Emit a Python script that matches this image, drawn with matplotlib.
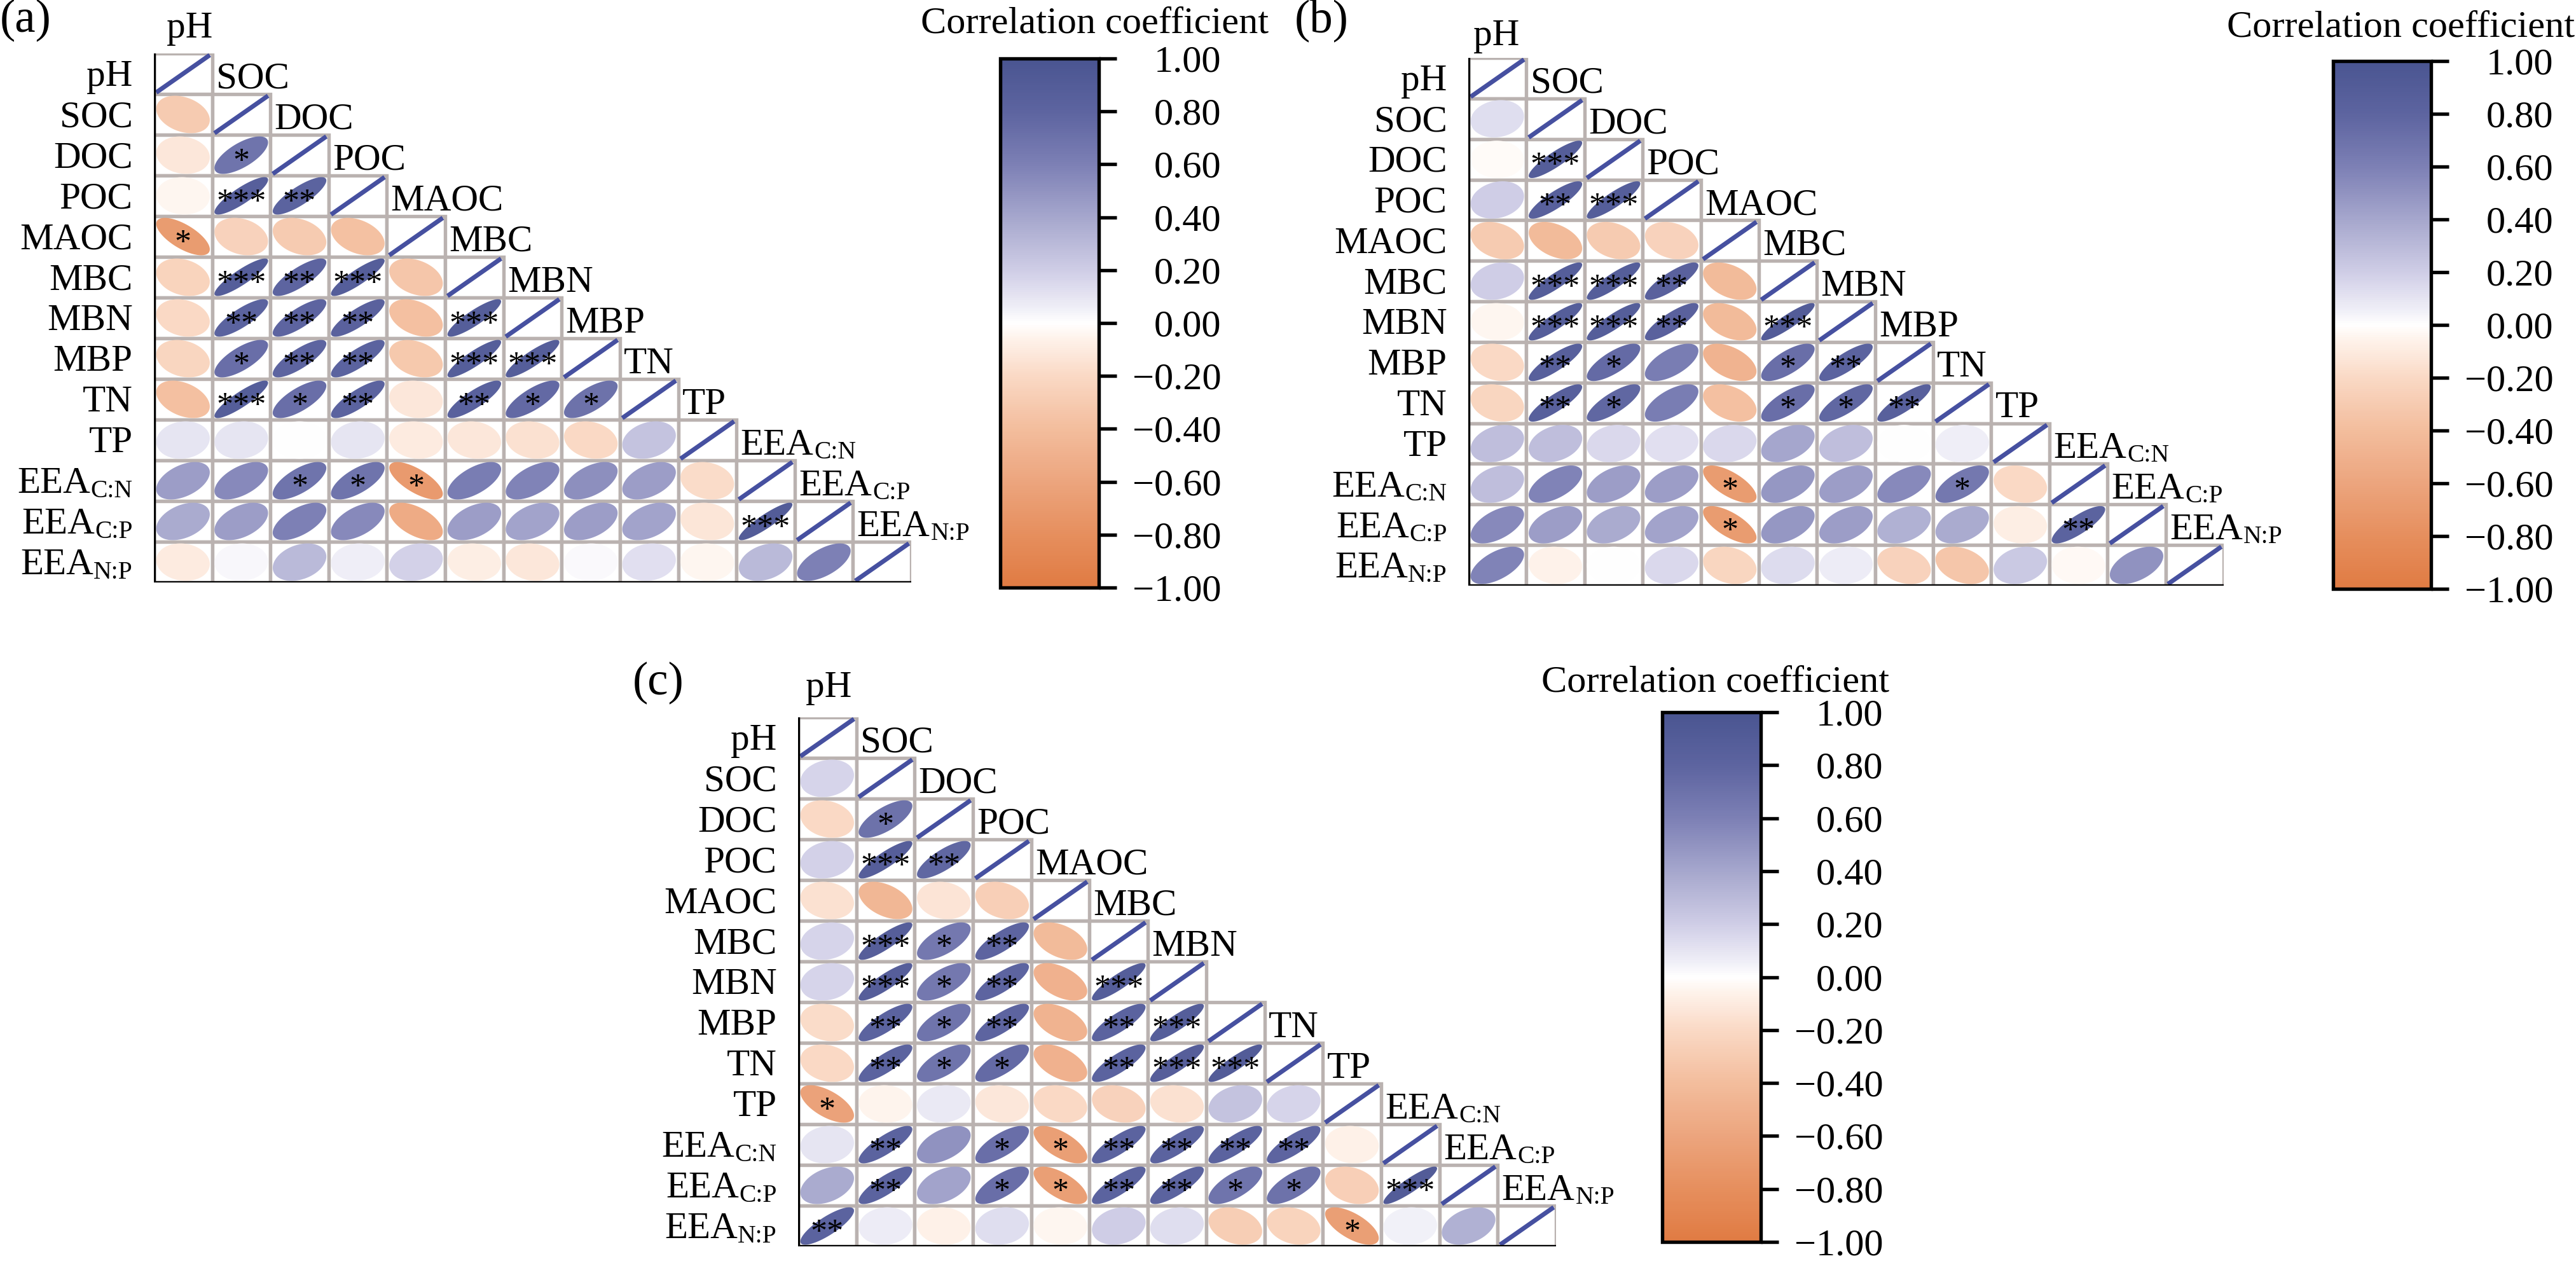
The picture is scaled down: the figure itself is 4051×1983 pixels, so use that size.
import numpy as np
import matplotlib
matplotlib.use('Agg')
import matplotlib.pyplot as plt
from matplotlib.colors import LinearSegmentedColormap, Normalize
from matplotlib.patches import Rectangle, Polygon
from matplotlib.textpath import TextPath
from matplotlib.font_manager import FontProperties
from matplotlib.cm import ScalarMappable
from matplotlib.ticker import FuncFormatter

plt.rcParams['font.family'] = 'Liberation Serif'

# variables (rows / columns of the lower triangle); text after '_' is a subscript
variables = ['pH', 'SOC', 'DOC', 'POC', 'MAOC', 'MBC', 'MBN', 'MBP', 'TN', 'TP',
             'EEA_C:N', 'EEA_C:P', 'EEA_N:P']
# panel (c) has no label above the MBP column
col_labels_c = ['pH', 'SOC', 'DOC', 'POC', 'MAOC', 'MBC', 'MBN', '', 'TN', 'TP',
                'EEA_C:N', 'EEA_C:P', 'EEA_N:P']

# correlation coefficients, lower triangle row by row (diagonal = 1 left out)
corr_a = [
    [],
    [-0.30],
    [-0.12, 0.68],
    [-0.04, 0.86, 0.82],
    [-0.68, -0.25, -0.30, -0.37],
    [-0.24, 0.88, 0.80, 0.88, -0.33],
    [-0.20, 0.82, 0.80, 0.83, -0.38, 0.88],
    [-0.22, 0.72, 0.80, 0.82, -0.32, 0.88, 0.88],
    [-0.38, 0.88, 0.72, 0.82, -0.12, 0.84, 0.76, 0.70],
    [0.10, 0.10, 0.00, 0.10, -0.10, -0.12, -0.15, -0.20, 0.25],
    [0.45, 0.55, 0.68, 0.68, -0.70, 0.62, 0.58, 0.52, 0.45, -0.18],
    [0.38, 0.45, 0.60, 0.55, -0.55, 0.45, 0.42, 0.45, 0.42, -0.13, 0.90],
    [-0.10, 0.03, 0.30, 0.06, 0.18, -0.08, -0.12, 0.02, 0.12, -0.04, 0.30, 0.60],
]
sig_a = [
    [],
    [''],
    ['', '*'],
    ['', '***', '**'],
    ['*', '', '', ''],
    ['', '***', '**', '***', ''],
    ['', '**', '**', '**', '', '***'],
    ['', '*', '**', '**', '', '***', '***'],
    ['', '***', '*', '**', '', '**', '*', '*'],
    ['', '', '', '', '', '', '', '', ''],
    ['', '', '*', '*', '*', '', '', '', '', ''],
    ['', '', '', '', '', '', '', '', '', '', '***'],
    ['', '', '', '', '', '', '', '', '', '', '', ''],
]

corr_b = [
    [],
    [0.13],
    [-0.02, 0.88],
    [0.20, 0.85, 0.88],
    [-0.30, -0.42, -0.30, -0.25],
    [0.20, 0.88, 0.88, 0.83, -0.42],
    [-0.04, 0.88, 0.88, 0.83, -0.42, 0.90],
    [-0.20, 0.85, 0.75, 0.62, -0.48, 0.72, 0.82],
    [-0.22, 0.85, 0.78, 0.62, -0.38, 0.72, 0.78, 0.85],
    [0.28, 0.28, 0.15, 0.12, 0.15, 0.40, 0.28, 0.00, 0.06],
    [0.28, 0.58, 0.45, 0.45, -0.68, 0.48, 0.45, 0.55, 0.65, -0.20],
    [0.55, 0.45, 0.38, 0.42, -0.68, 0.48, 0.45, 0.35, 0.38, -0.08, 0.82],
    [0.58, -0.06, 0.00, 0.15, -0.22, 0.14, 0.07, -0.25, -0.33, 0.22, -0.03, 0.50],
]
sig_b = [
    [],
    [''],
    ['', '***'],
    ['', '**', '***'],
    ['', '', '', ''],
    ['', '***', '***', '**', ''],
    ['', '***', '***', '**', '', '***'],
    ['', '**', '*', '', '', '*', '**'],
    ['', '**', '*', '', '', '*', '*', '**'],
    ['', '', '', '', '', '', '', '', ''],
    ['', '', '', '', '*', '', '', '', '*', ''],
    ['', '', '', '', '*', '', '', '', '', '', '**'],
    ['', '', '', '', '', '', '', '', '', '', '', ''],
]

corr_c = [
    [],
    [0.17],
    [-0.20, 0.70],
    [0.18, 0.87, 0.78],
    [-0.15, -0.45, -0.14, -0.27],
    [0.17, 0.87, 0.65, 0.80, -0.42],
    [0.17, 0.87, 0.65, 0.80, -0.50, 0.88],
    [-0.18, 0.82, 0.68, 0.80, -0.48, 0.82, 0.88],
    [-0.20, 0.82, 0.68, 0.75, -0.50, 0.82, 0.87, 0.90],
    [-0.62, -0.05, 0.08, -0.12, -0.20, -0.25, -0.15, 0.25, 0.17],
    [0.10, 0.82, 0.50, 0.72, -0.65, 0.82, 0.82, 0.82, 0.80, -0.07],
    [0.38, 0.82, 0.42, 0.72, -0.65, 0.82, 0.82, 0.68, 0.70, -0.27, 0.90],
    [0.82, 0.07, -0.07, 0.13, -0.04, 0.20, 0.13, -0.28, -0.24, -0.65, 0.05, 0.35],
]
sig_c = [
    [],
    [''],
    ['', '*'],
    ['', '***', '**'],
    ['', '', '', ''],
    ['', '***', '*', '**', ''],
    ['', '***', '*', '**', '', '***'],
    ['', '**', '*', '**', '', '**', '***'],
    ['', '**', '*', '*', '', '**', '***', '***'],
    ['*', '', '', '', '', '', '', '', ''],
    ['', '**', '', '*', '*', '**', '**', '**', '**', ''],
    ['', '**', '', '*', '*', '**', '**', '*', '*', '', '***'],
    ['**', '', '', '', '', '', '', '', '', '*', '', ''],
]

cbar_ticks = [-1.0, -0.8, -0.6, -0.4, -0.2, 0.0, 0.2, 0.4, 0.6, 0.8, 1.0]

# colour scale: orange (negative) - white - slate blue (positive)
cmap = LinearSegmentedColormap.from_list('corr', [
    (0.00, '#e07b43'), (0.10, '#e68f5e'), (0.20, '#eca57e'), (0.30, '#f3bd9d'),
    (0.40, '#fad9c5'), (0.47, '#fef2ea'), (0.50, '#ffffff'), (0.53, '#efeef7'),
    (0.60, '#cfcde6'), (0.70, '#a6a7cd'), (0.80, '#7d80b5'), (0.90, '#5d64a0'),
    (1.00, '#4a5591')])
norm = Normalize(-1, 1)

W, H = 4051, 1983
DPI = 300
grid_col = '#bab2b0'
diag_col = '#4650a0'
LABEL_FS = 14.2
SUB_FS = 9.5
SUB_DROP = 1.5
STAR_FS = 12.5
TICK_FS = 14.5
ELL = 0.92

fp = FontProperties(family='Liberation Serif')
cap_mid = sum(TextPath((0, 0), 'H', size=LABEL_FS, prop=fp).get_extents().intervaly) / 2
star_mid = sum(TextPath((0, 0), '*', size=STAR_FS, prop=fp).get_extents().intervaly) / 2


def text_width(s, size):
    return TextPath((0, 0), s, size=size, prop=fp).get_extents().x1


def put_label(ax, xy, label, dx, ha):
    # label with an optional subscript after '_', baseline at the row centre
    main, _, sub = label.partition('_')
    dy = -cap_mid
    kw = dict(xy=xy, textcoords='offset points', va='baseline', annotation_clip=False)
    if not sub:
        ax.annotate(main, xytext=(dx, dy), ha=ha, fontsize=LABEL_FS, **kw)
        return
    w_main = text_width(main, LABEL_FS) + 0.4
    w_sub = text_width(sub, SUB_FS) + 0.4
    if ha == 'right':
        ax.annotate(sub, xytext=(dx, dy - SUB_DROP), ha='right', fontsize=SUB_FS, **kw)
        ax.annotate(main, xytext=(dx - w_sub, dy), ha='right', fontsize=LABEL_FS, **kw)
    else:
        ax.annotate(main, xytext=(dx, dy), ha='left', fontsize=LABEL_FS, **kw)
        ax.annotate(sub, xytext=(dx + w_main, dy - SUB_DROP), ha='left', fontsize=SUB_FS, **kw)


def px_rect(x0, y0, x1, y1):
    # pixel box (top-left origin) -> figure fraction
    return [x0 / W, 1 - y1 / H, (x1 - x0) / W, (y1 - y0) / H]


def draw_panel(fig, box, corr, sig, col_labels, ph_pos):
    ax = fig.add_axes(px_rect(*box))
    n = len(variables)
    ax.set_xlim(-0.5, n - 0.5)
    ax.set_ylim(n - 0.5, -0.5)
    ax.axis('off')

    t = np.linspace(0, 2 * np.pi, 120)
    for i in range(n):
        for j in range(i + 1):
            ax.add_patch(Rectangle((j - 0.5, i - 0.5), 1, 1, facecolor='white',
                                   edgecolor=grid_col, lw=1.3, zorder=1))
            if i == j:
                ax.plot([j - ELL / 2, j + ELL / 2], [i + ELL / 2, i - ELL / 2],
                        color=diag_col, lw=1.7, solid_capstyle='butt', zorder=2)
                continue
            r = corr[i][j]
            d = np.arccos(r)
            ex = ELL * np.cos(t + d / 2) / 2
            ey = ELL * np.cos(t - d / 2) / 2
            ax.add_patch(Polygon(np.column_stack([j + ex, i - ey]), closed=True,
                                 facecolor=cmap(norm(r)), edgecolor='none', zorder=2))
            if sig[i][j]:
                ax.annotate(sig[i][j], xy=(j, i), xytext=(0, -star_mid),
                            textcoords='offset points', ha='center', va='baseline',
                            fontsize=STAR_FS, zorder=4)

    # black left and bottom axis lines
    ax.plot([-0.5, -0.5], [-0.5, n - 0.5], color='black', lw=1.3, zorder=5,
            solid_capstyle='projecting')
    ax.plot([-0.5, n - 0.5], [n - 0.5, n - 0.5], color='black', lw=1.3, zorder=5,
            solid_capstyle='projecting')

    # row labels
    for i, lab in enumerate(variables):
        put_label(ax, (-0.5, i), lab, -8, 'right')
    # column labels along the diagonal
    put_label(ax, ph_pos, col_labels[0], 0, 'left')
    for j in range(1, n):
        if col_labels[j]:
            put_label(ax, (j - 0.5, j - 1 + 0.05), col_labels[j], 1.5, 'left')
    return ax


def draw_cbar(fig, box, title_x, title_y):
    cax = fig.add_axes(px_rect(*box))
    sm = ScalarMappable(norm=norm, cmap=cmap)
    cb = fig.colorbar(sm, cax=cax, ticks=cbar_ticks)
    cb.outline.set_linewidth(1.3)
    cb.ax.yaxis.set_major_formatter(FuncFormatter(lambda v, p: ('%.2f' % v).replace('-', '\u2212')))
    cb.ax.tick_params(direction='out', length=6.7, width=1.3, pad=39.5, labelsize=TICK_FS)
    for lab in cb.ax.get_yticklabels():
        lab.set_horizontalalignment('right')
    fig.text(title_x / W, 1 - title_y / H, 'Correlation coefficient', ha='center',
             va='baseline', fontsize=TICK_FS)


fig = plt.figure(figsize=(W / DPI, H / DPI), dpi=DPI)

draw_panel(fig, (242, 84, 1433, 916), corr_a, sig_a, variables, (-0.28, -1.19))
draw_cbar(fig, (1573, 92, 1728, 924), 1722, 51)
fig.text(0 / W, 1 - 50 / H, '(a)', fontsize=17.5, ha='left', va='baseline')

draw_panel(fig, (2309, 91, 3497, 921), corr_b, sig_b, variables, (-0.41, -1.11))
draw_cbar(fig, (3669, 96, 3823, 926), 3775, 57)
fig.text(2036 / W, 1 - 50 / H, '(b)', fontsize=17.5, ha='left', va='baseline')

draw_panel(fig, (1255, 1128, 2447, 1960), corr_c, sig_c, col_labels_c, (-0.37, -1.3))
draw_cbar(fig, (2614, 1120, 2769, 1953), 2697, 1088)
fig.text(995 / W, 1 - 1092 / H, '(c)', fontsize=17.5, ha='left', va='baseline')

fig.savefig('out.png', dpi=DPI)
